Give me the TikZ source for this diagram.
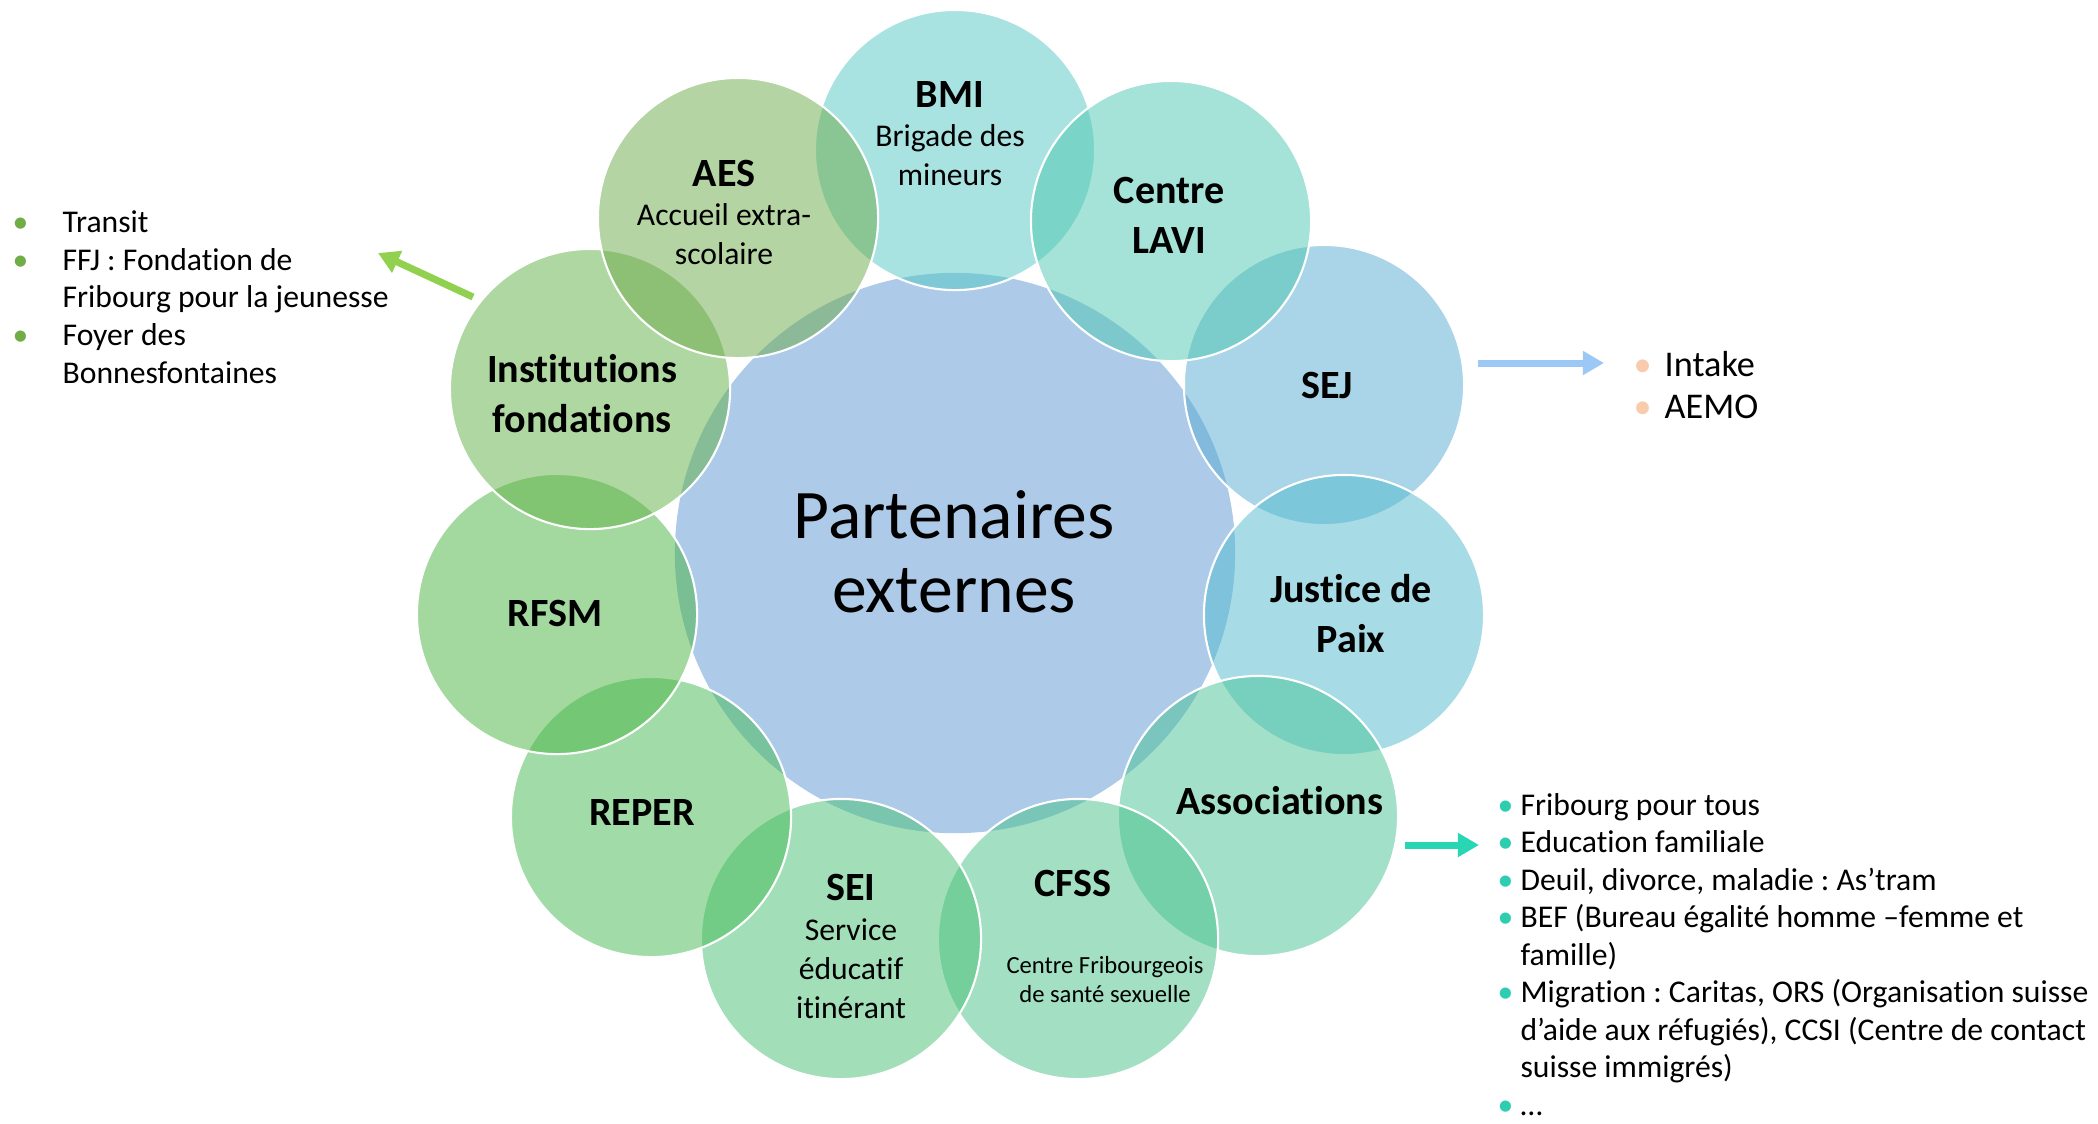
\documentclass[tikz,border=0pt]{standalone}
\usepackage{fontspec}
\setmainfont[Ligatures=NoCommon]{Carlito}
\usetikzlibrary{arrows.meta}
\definecolor{hubblue}{RGB}{173,203,232}
\definecolor{cBMI}{RGB}{83,201,197}
\definecolor{cAES}{RGB}{109,171,73}
\definecolor{cLAVI}{RGB}{77,199,177}
\definecolor{cSEJ}{RGB}{87,171,209}
\definecolor{cJUS}{RGB}{81,187,207}
\definecolor{cASS}{RGB}{73,195,151}
\definecolor{cCFSS}{RGB}{71,193,137}
\definecolor{cSEI}{RGB}{71,193,115}
\definecolor{cREP}{RGB}{69,187,83}
\definecolor{cRFSM}{RGB}{73,179,65}
\definecolor{cINST}{RGB}{97,177,69}
\definecolor{arrGreen}{RGB}{146,208,80}
\definecolor{arrBlue}{RGB}{155,200,245}
\definecolor{arrTeal}{RGB}{40,214,180}
\definecolor{bulGreen}{RGB}{112,173,71}
\definecolor{bulPeach}{RGB}{248,203,173}
\definecolor{bulTeal}{RGB}{45,205,176}
\newcommand\mybul[2]{\makebox[#1][l]{\textcolor{#2}{\textbullet}}}
\frenchspacing
\begin{document}
\begin{tikzpicture}[x=0.01cm,y=-0.01cm,
  ringc/.style={circle, minimum size=2.8cm, inner sep=0pt, draw=white, line width=0.6pt, fill opacity=0.5},
  hubc/.style={circle, minimum size=5.6cm, inner sep=0pt, fill=hubblue},
  biglbl/.style={font=\fontsize{11.4pt}{14.2pt}\selectfont\bfseries, align=center, inner sep=0pt},
  sublbl/.style={font=\fontsize{9pt}{11.1pt}\selectfont, align=center, inner sep=0pt},
  cfsslbl/.style={font=\fontsize{7pt}{8.3pt}\selectfont, align=center, inner sep=0pt},
  listtxt/.style={font=\fontsize{9pt}{10.7pt}\selectfont\frenchspacing, align=left, anchor=base west, inner sep=0pt},
  arr/.style={line width=2pt, -{Triangle[length=6pt,width=6.5pt]}},
]
\useasboundingbox (0,0) rectangle (2098,1123);
\fill[white] (0,0) rectangle (2098,1123);

% hub
\node[hubc] (hub) at (955,553) {};

% outer circles (drawing order)
\node[ringc, fill=cBMI]  (bmi)  at (955,150) {};
\node[ringc, fill=cSEJ]  (sej)  at (1324,385) {};
\node[ringc, fill=cJUS]  (jus)  at (1344,615) {};
\node[ringc, fill=cASS]  (ass)  at (1258,816) {};
\node[ringc, fill=cCFSS] (cfss) at (1078,939) {};
\node[ringc, fill=cSEI]  (sei)  at (841,939) {};
\node[ringc, fill=cREP]  (reper) at (651,817) {};
\node[ringc, fill=cRFSM] (rfsm) at (557,614) {};
\node[ringc, fill=cINST] (inst) at (590,389) {};
\node[ringc, fill=cAES]  (aes)  at (738,218) {};
\node[ringc, fill=cLAVI] (lavi) at (1171,221) {};

% texts
\node[font=\fontsize{19.8pt}{21pt}\selectfont, align=center, inner sep=0pt] (hubtxt) at (954,552) {Partenaires\\externes};

\node[biglbl] (bmit) at (950,94) {BMI};
\node[sublbl] (bmis) at (950,155.5) {Brigade des\\mineurs};
\node[biglbl] (aest) at (724,173) {AES};
\node[sublbl] (aess) at (724,234.5) {Accueil extra-\\scolaire};
\node[biglbl] (lavit) at (1169,215) {Centre\\LAVI};
\node[biglbl] (sejt) at (1327,385) {SEJ};
\node[biglbl] (just) at (1351,613.5) {Justice de\\Paix};
\node[biglbl] (asst) at (1280,801) {Associations};
\node[biglbl] (cfsst) at (1073,883) {CFSS};
\node[cfsslbl] (cfsss) at (1105,979.5) {Centre Fribourgeois\\de santé sexuelle};
\node[biglbl] (seit) at (851,887) {SEI};
\node[sublbl] (seis) at (851,968.5) {Service\\éducatif\\itinérant};
\node[biglbl] (repert) at (642,812) {REPER};
\node[biglbl] (rfsmt) at (555,613) {RFSM};
\node[biglbl] (instt) at (582,393.5) {Institutions\\fondations};

% lists (anchor = baseline of the last line)
\node[listtxt] (leftlist) at (12,383) {%
\mybul{14.2pt}{bulGreen}Transit\\
\mybul{14.2pt}{bulGreen}FFJ : Fondation de\\
\hspace*{14.2pt}Fribourg pour la jeunesse\\
\mybul{14.2pt}{bulGreen}Foyer des\\
\hspace*{14.2pt}Bonnesfontaines};

\node[listtxt, font=\fontsize{10.3pt}{11.7pt}\selectfont] (sejlist) at (1633,418) {%
\mybul{8.8pt}{bulPeach}Intake\\
\mybul{8.8pt}{bulPeach}AEMO};

\node[listtxt, font=\fontsize{9pt}{10.65pt}\selectfont\frenchspacing] (asslist) at (1497,1115) {%
\mybul{6.5pt}{bulTeal}Fribourg pour tous\\
\mybul{6.5pt}{bulTeal}Education familiale\\
\mybul{6.5pt}{bulTeal}Deuil, divorce, maladie : As’tram\\
\mybul{6.5pt}{bulTeal}BEF (Bureau égalité homme –femme et\\
\hspace*{6.5pt}famille)\\
\mybul{6.5pt}{bulTeal}Migration : Caritas, ORS (Organisation suisse\\
\hspace*{6.5pt}d’aide aux réfugiés), CCSI (Centre de contact\\
\hspace*{6.5pt}suisse immigrés)\\
\mybul{6.5pt}{bulTeal}…};

% arrows
\coordinate (gA) at (473,297);
\coordinate (gB) at (378,253);
\coordinate (bA) at (1478,363);
\coordinate (bB) at (1604,363);
\coordinate (tA) at (1405,845);
\coordinate (tB) at (1479,845);
\draw[arr, draw=arrGreen, fill=arrGreen] (gA) -- (gB);
\draw[arr, draw=arrBlue, fill=arrBlue] (bA) -- (bB);
\draw[arr, draw=arrTeal, fill=arrTeal] (tA) -- (tB);
\end{tikzpicture}
\end{document}
